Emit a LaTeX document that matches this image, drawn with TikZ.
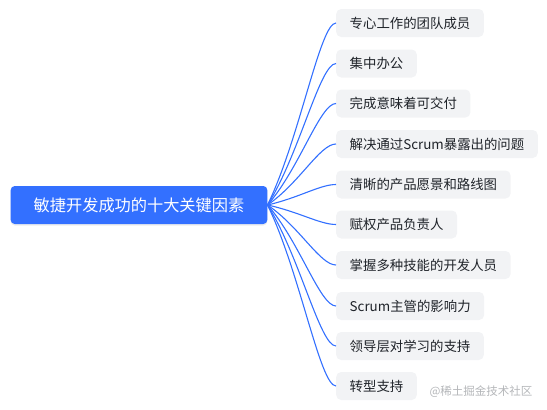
\documentclass[tikz,border=0pt]{standalone}
\usepackage{fontspec}
\setmainfont{Noto Sans CJK SC}
\usetikzlibrary{calc,shadows}
\definecolor{mainblue}{HTML}{3370FF}
\definecolor{leafgray}{HTML}{F2F3F5}
\definecolor{leaftext}{HTML}{1F2329}
\definecolor{wmgray}{HTML}{B4B6B9}
\begin{document}
\begin{tikzpicture}[x=1pt,y=-1pt,
  rootbox/.style={fill=mainblue, text=white, rounded corners=4pt, minimum height=38pt,
    inner xsep=23pt, inner ysep=0pt, font=\fontsize{16.2}{18}\selectfont,
    drop shadow={shadow xshift=0pt, shadow yshift=-1.5pt, opacity=0.15}},
  leafbox/.style={fill=leafgray, text=leaftext, rounded corners=5pt, minimum height=28pt,
    inner xsep=13.5pt, inner ysep=0pt, anchor=west, font=\fontsize{13.4}{15}\selectfont},
  link/.style={draw=mainblue, line width=1.1pt},
  wm/.style={text=wmgray, font=\fontsize{11.5}{13}\selectfont}]
\useasboundingbox (0,0) rectangle (547,410);
\node[rootbox] (root) at (139,205) {敏捷开发成功的十大关键因素};
\node[leafbox] (l1) at (336,23) {专心工作的团队成员};
\node[leafbox] (l2) at (336,63.5) {集中办公};
\node[leafbox] (l3) at (336,103.5) {完成意味着可交付};
\node[leafbox] (l4) at (336,144) {解决通过Scrum暴露出的问题};
\node[leafbox] (l5) at (336,184.5) {清晰的产品愿景和路线图};
\node[leafbox] (l6) at (336,224.5) {赋权产品负责人};
\node[leafbox] (l7) at (336,265) {掌握多种技能的开发人员};
\node[leafbox] (l8) at (336,306) {Scrum主管的影响力};
\node[leafbox] (l9) at (336,346) {领导层对学习的支持};
\node[leafbox] (l10) at (336,386) {转型支持};
\foreach \i in {1,...,10}
  \draw[link] (root.east) .. controls ($(root.east)!0.36!(root.east |- l\i.west) + (32,0)$)
    and ($(l\i.west)+(-16,0)$) .. (l\i.west);
\node[wm, anchor=east] (wm) at (536,392) {@稀土掘金技术社区};
\end{tikzpicture}
\end{document}
